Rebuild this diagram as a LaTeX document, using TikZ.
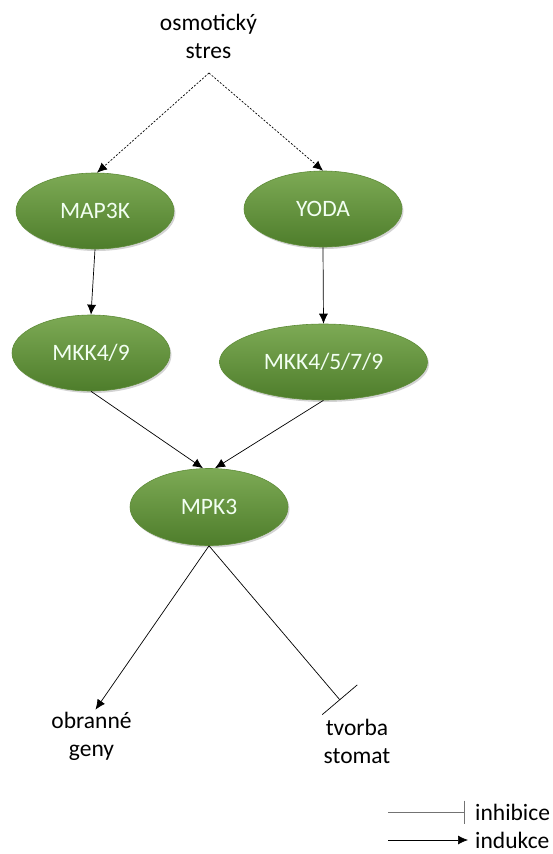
\documentclass[tikz,border=0pt]{standalone}
\usepackage{fontspec}
\setmainfont{Carlito}
\usetikzlibrary{shapes.geometric,arrows.meta,shadows}

\definecolor{listHorni}{HTML}{7DAA55}
\definecolor{listDolni}{HTML}{4E7D2B}
\definecolor{listOkraj}{HTML}{5E8C38}

\tikzset{
  enzym/.style={ellipse, minimum width=158pt, minimum height=76pt, inner sep=0pt,
    top color=listHorni, bottom color=listDolni, draw=listOkraj, line width=0.6pt,
    text=white!95!green, font=\fontsize{23.5}{28}\selectfont,
    drop shadow={shadow xshift=1.5pt, shadow yshift=-2pt, opacity=0.35}},
  popis/.style={align=center, font=\fontsize{23.5}{28}\selectfont, inner sep=0pt},
  indukce/.style={-{Latex[length=10pt,width=9pt]}, line width=0.7pt},
  inhibice/.style={-{Bar[width=46pt]}, line width=0.7pt},
  tecky/.style={indukce, dash pattern=on 2pt off 1.6pt}
}

\begin{document}
\begin{tikzpicture}[x=1pt, y=-1pt]
  \useasboundingbox (0,0) rectangle (553,854);

  % Stres
  \node[popis] (stres) at (208.5,36) {osmotický\\stres};
  \coordinate (rozcesti) at (209,73);

  % Kinazy
  \node[enzym] (map3k) at (95,211) {MAP3K};
  \node[enzym] (yoda) at (323,209) {YODA};
  \node[enzym] (mkkA) at (91,353) {MKK4/9};
  \node[enzym, minimum width=208pt] (mkkB) at (323.5,362) {MKK4/5/7/9};
  \node[enzym, minimum height=77pt] (mpk3) at (209,507) {MPK3};

  % Cile
  \node[popis] (geny) at (91.5,736) {obranné\\geny};
  \node[popis] (stomat) at (357,741) {tvorba\\stomat};
  \coordinate (blok) at (340,700);

  % Sipky
  \draw[tecky] (rozcesti) -- ([xshift=2pt]map3k.north);
  \draw[tecky] (rozcesti) -- (yoda.north);
  \draw[indukce] (map3k.south) -- (mkkA.north);
  \draw[indukce] (yoda.south) -- (mkkB.north);
  \draw[indukce] (mkkA.south) -- ([xshift=-6pt]mpk3.north);
  \draw[indukce] (mkkB.south) -- ([xshift=6pt]mpk3.north);
  \draw[indukce] (mpk3.south) -- ([xshift=4pt,yshift=2pt]geny.north);
  \draw[inhibice] (mpk3.south) -- (blok);

  % Legenda
  \coordinate (l1a) at (388,812);
  \coordinate (l1b) at (465,812);
  \coordinate (l2a) at (388,840);
  \coordinate (l2b) at (468,840);
  \draw[-{Bar[width=23pt]}, line width=0.7pt, gray!90!black] (l1a) -- (l1b);
  \draw[-{Latex[length=10pt,width=9pt]}, line width=0.7pt] (l2a) -- (l2b);
  \node[popis, anchor=west] (leg1) at (475,812) {inhibice};
  \node[popis, anchor=west] (leg2) at (475,840) {indukce};
\end{tikzpicture}
\end{document}
